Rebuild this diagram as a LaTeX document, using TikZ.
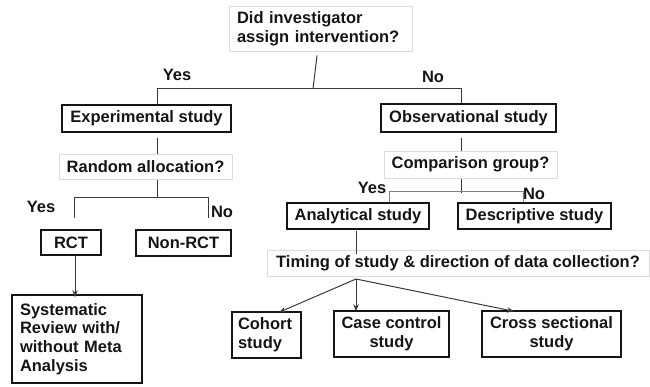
\documentclass[tikz,border=0pt]{standalone}
\usepackage{fontspec}
\setmainfont{Liberation Sans}
\usetikzlibrary{arrows.meta}
\definecolor{ink}{HTML}{151515}
\definecolor{lightb}{HTML}{DCDCDC}
\definecolor{connc}{HTML}{3A3A3A}
\begin{document}
\begin{tikzpicture}[x=1pt,y=-1pt,
  every node/.style={font=\fontsize{16.5}{18.8}\selectfont\bfseries, text=ink, inner sep=0pt},
  dbox/.style={draw=ink, line width=1.4pt, rectangle},
  lbox/.style={draw=lightb, line width=1pt, rectangle},
  conn/.style={draw=connc, line width=1pt},
  arr/.style={conn, -{Stealth[length=7pt,width=5.5pt]}},
  lab/.style={}]
\useasboundingbox (0,0) rectangle (650,386);
% nodes
\node[lbox, minimum height=45pt, text width=167pt, inner xsep=8pt, align=left] (q1) at (320.5,28.5) {Did investigator\\assign intervention?};
\node[dbox, minimum width=169pt, minimum height=27pt] (exp) at (146.5,118.5) {Experimental study};
\node[dbox, minimum width=175pt, minimum height=28pt] (obs) at (468.5,118) {Observational study};
\node[lbox, minimum width=173pt, minimum height=25pt] (rand) at (145.5,166.5) {Random allocation?};
\node[lbox, minimum width=173pt, minimum height=27pt] (comp) at (470.5,164.5) {Comparison group?};
\node[dbox, minimum width=60pt, minimum height=25pt] (rct) at (71,242.5) {RCT};
\node[dbox, minimum width=95pt, minimum height=26pt] (nonrct) at (183.5,243) {Non-RCT};
\node[dbox, minimum height=88pt, text width=114pt, inner xsep=8pt, align=left] (sys) at (77,339) {Systematic\\Review with/\\without Meta\\Analysis};
\node[dbox, minimum width=142pt, minimum height=26pt] (ana) at (358,216) {Analytical study};
\node[dbox, minimum width=153pt, minimum height=26pt] (desc) at (534.5,216) {Descriptive study};
\node[lbox, minimum width=382pt, minimum height=26pt] (timing) at (458,263) {Timing of study \& direction of data collection?};
\node[dbox, minimum height=46pt, text width=57pt, inner xsep=6pt, align=left] (cohort) at (266.5,335) {Cohort\\study};
\node[dbox, minimum width=115pt, minimum height=46pt, align=center] (case) at (391.5,334) {Case control\\study};
\node[dbox, minimum width=139pt, minimum height=46pt, align=center] (cross) at (551.5,334) {Cross sectional\\study};
% labels
\node (yes1) at (177,75) {Yes};
\node (no1) at (433,77) {No};
\node (yes2) at (41,207) {Yes};
\node (no2) at (222,212) {No};
\node (yes3) at (372,188) {Yes};
\node (no3) at (534,194) {No};
% junction coordinates
\coordinate (j1) at (313,89);
\coordinate (ry) at (74,218);
\coordinate (rn) at (208,218);
\coordinate (t0) at (356,279);
% connectors
\draw[conn] ([xshift=-3.5pt,yshift=-4pt]q1.south) -- (j1);
\draw[conn] ([xshift=10.5pt]exp.north) -- ++(0,-16) -| ([xshift=-7.5pt]obs.north);
\draw[conn] ([xshift=10.5pt,yshift=-5pt]exp.south) -- ([xshift=11.5pt]rand.north);
\draw[conn] ([xshift=-7.5pt,yshift=-5pt]obs.south) -- ([xshift=-9.5pt]comp.north);
\draw[conn] ([xshift=11.5pt]rand.south) -- ++(0,18);
\draw[conn] (ry) -- ++(0,-21) -- ++(134,0) -- (rn);
\draw[arr] ([xshift=4pt]rct.south) -- ([xshift=-2pt,yshift=-3pt]sys.north);
\draw[conn] ([xshift=-9.5pt]comp.south) -- ++(0,14);
\draw[conn, draw=gray] ([xshift=31pt]ana.north) -- ++(0,-11) -| ([xshift=-11.5pt]desc.north);
\draw[conn] ([xshift=-2pt,yshift=-1pt]ana.south) -- ([xshift=-102pt,yshift=-4pt]timing.north);
\draw[arr] (t0) -- ([xshift=12.5pt,yshift=-1pt]cohort.north);
\draw[arr] (t0) -- ([xshift=-35.5pt,yshift=-1pt]case.north);
\draw[arr] (t0) -- ([xshift=-37.5pt,yshift=-1pt]cross.north);
\end{tikzpicture}
\end{document}
